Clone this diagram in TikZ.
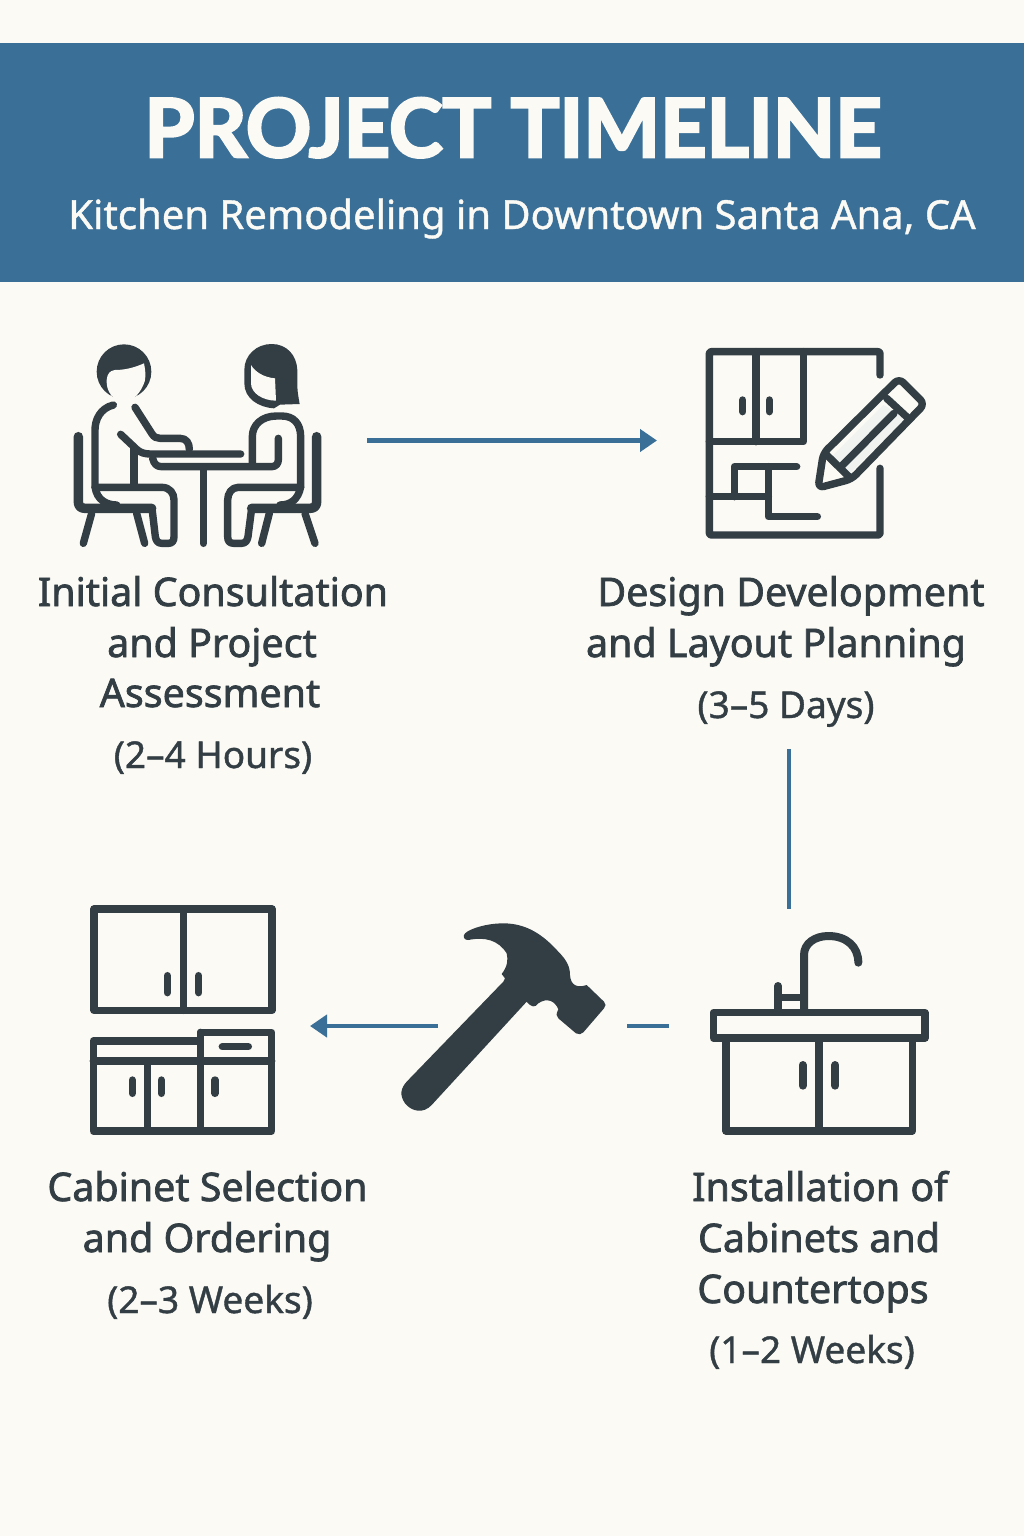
\documentclass[tikz,border=0pt]{standalone}
\usepackage{fontspec}
\setmainfont{Noto Sans}
\newfontfamily\lblfont{Noto Sans}
\newfontfamily\subfont{Noto Sans}
\newfontfamily\titlefont{Lato}
\newcommand{\heavyink}[2]{\special{pdf:code 2 Tr #1 w 0.196 0.239 0.267 RG}#2\special{pdf:code 0 Tr 1 w}}
\newcommand{\heavywhite}[2]{\special{pdf:code 2 Tr #1 w 0.984 0.98 0.961 RG}#2\special{pdf:code 0 Tr 1 w}}
\definecolor{bgc}{HTML}{FBFAF5}
\definecolor{bandc}{HTML}{3A6F98}
\definecolor{inkc}{HTML}{323D44}
\definecolor{penc}{HTML}{F1F3F0}
\tikzset{
  ink/.style={draw=inkc,line width=7.4pt,line join=round,line cap=round},
  chair/.style={draw=inkc,line width=9.5pt,line join=round,line cap=round},
  flowline/.style={draw=bandc,line width=4.2pt},
  flowarrow/.style={flowline,-{Triangle[length=17pt,width=22pt]}},
  lbl/.style={anchor=base,text=inkc,font=\lblfont\fontsize{39.4}{39.4}\selectfont,inner sep=0pt},
  dur/.style={anchor=base,text=inkc,font=\subfont\fontsize{37}{37}\selectfont,inner sep=0pt},
  zoomed/.style={x=0.33333pt,y=-0.33333pt}
}
\usetikzlibrary{arrows.meta}
\begin{document}
\begin{tikzpicture}[x=1pt,y=-1pt]
\useasboundingbox (0,0) rectangle (1024,1536);
\fill[bgc] (0,0) rectangle (1024,1536);
\fill[bandc] (0,43) rectangle (1024,282);
\node[anchor=base,text=bgc,font=\titlefont\fontsize{81}{81}\selectfont\bfseries,inner sep=0pt] (title) at (513,157) {\heavywhite{2.6}{PROJECT TIMELINE}};
\node[anchor=base,text=bgc,font=\subfont\fontsize{40}{40}\selectfont,inner sep=0pt] (subtitle) at (522,229) {\heavywhite{0.4}{Kitchen Remodeling in Downtown Santa Ana, CA}};

% --- consultation icon
\begin{scope}[shift={(50,330)},zoomed]
  \fill[inkc] (222,125) circle (82);
  \fill[bgc] (170,150) .. controls (172,130) and (180,122) .. (195,120) .. controls (230,120) and (260,110) .. (282,100) .. controls (288,130) and (288,150) .. (280,165) .. controls (265,200) and (240,215) .. (225,215) .. controls (190,215) and (168,185) .. (170,150) -- cycle;
  \draw[ink] (190,225) .. controls (150,235) and (135,270) .. (135,300) -- (135,470) .. controls (140,510) and (170,525) .. (200,525);
  \draw[ink] (135,472) -- (335,472) .. controls (360,472) and (372,490) .. (372,510) -- (372,620) .. controls (372,635) and (365,640) .. (355,640) -- (335,640) .. controls (322,640) and (318,630) .. (316,620) -- (306,535);
  \draw[ink] (255,232) -- (305,310) .. controls (312,322) and (320,325) .. (330,325) -- (390,325) .. controls (410,325) and (418,340) .. (418,358);
  \draw[ink] (212,313) -- (262,360) .. controls (272,368) and (285,372) .. (300,372) -- (572,372);
  \draw[ink] (252,355) -- (252,470);
  \draw[ink] (308,385) .. controls (312,402) and (320,410) .. (335,410) -- (665,410) .. controls (678,410) and (685,400) .. (685,390) -- (685,325);
  \draw[ink] (460,415) -- (460,640);
  \draw[chair] (85,320) -- (85,515) .. controls (85,528) and (92,535) .. (105,535) -- (305,535);
  \draw[ink] (125,550) -- (100,640);
  \draw[ink] (260,550) -- (284,640);
  % woman
  \fill[inkc] (583,120) .. controls (583,75) and (620,42) .. (665,42) .. controls (710,42) and (740,75) .. (742,120) -- (742,170) .. controls (743,190) and (746,205) .. (749,222) -- (690,224) -- (672,235) .. controls (625,232) and (583,205) .. (583,160) -- cycle;
  \fill[bgc] (603,105) .. controls (615,125) and (640,142) .. (675,145) -- (678,212) .. controls (640,212) and (603,190) .. (603,160) -- cycle;
  \draw[ink] (607,400) -- (607,320) .. controls (607,285) and (635,258) .. (680,258) -- (695,258) .. controls (730,258) and (752,280) .. (752,320) -- (752,470) .. controls (745,510) and (720,525) .. (690,525);
  \draw[ink] (752,472) -- (565,472) .. controls (545,472) and (533,490) .. (533,510) -- (533,620) .. controls (533,635) and (540,640) .. (552,640) -- (575,640) .. controls (588,640) and (592,630) .. (594,620) -- (605,535);
  \draw[chair] (800,320) -- (800,515) .. controls (800,528) and (793,535) .. (780,535) -- (605,535);
  \draw[ink] (658,550) -- (635,640);
  \draw[ink] (765,550) -- (795,640);
\end{scope}

% --- design icon
\begin{scope}[shift={(690,335)},zoomed]
  \draw[ink,rounded corners=2pt] (570,120) -- (570,50) -- (58,50) -- (58,600) -- (570,600) -- (570,400);
  \draw[ink] (198,50) -- (198,320);
  \draw[ink] (340,50) -- (340,320) -- (58,320);
  \draw[ink] (158,195) -- (158,230);
  \draw[ink] (238,195) -- (238,230);
  \draw[ink] (320,395) -- (133,395) -- (133,485);
  \draw[ink] (58,485) -- (235,485);
  \draw[ink] (235,395) -- (235,545) -- (382,545);
  \fill[penc] (425,365) -- (580,210) -- (650,250) -- (480,415) -- cycle;
  \draw[ink,rounded corners=6pt] (384,459) -- (400,355) -- (627,130) -- (704,207) -- (485,432) -- cycle;
  \draw[ink] (590,190) -- (655,250);
  \draw[ink] (410,360) -- (482,430);
  \draw[ink] (450,398) -- (612,235);
\end{scope}

% --- cabinets icon
\begin{scope}[shift={(80,895)},zoomed]
  \draw[ink] (42,42) rectangle (576,346);
  \draw[ink] (310,42) -- (310,346);
  \draw[ink] (262,242) -- (262,293);
  \draw[ink] (356,242) -- (356,293);
  \draw[ink] (40,438) -- (362,438) -- (362,412) -- (575,412) -- (575,708) -- (40,708) -- cycle;
  \draw[ink] (40,498) -- (575,498);
  \draw[ink] (202,498) -- (202,708);
  \draw[ink] (362,412) -- (362,708);
  \draw[ink] (157,555) -- (157,595);
  \draw[ink] (244,555) -- (244,595);
  \draw[ink] (405,555) -- (405,595);
  \draw[ink] (427,455) -- (505,455);
\end{scope}

% --- hammer icon
\begin{scope}[shift={(390,910)},zoomed]
  \fill[inkc] (222,75) .. controls (225,62) and (280,40) .. (340,40)
    .. controls (410,40) and (460,75) .. (505,125)
    .. controls (530,150) and (540,170) .. (540,195)
    .. controls (542,225) and (560,235) .. (590,225)
    -- (642,275) .. controls (648,282) and (648,288) .. (642,295)
    -- (580,367) .. controls (574,374) and (566,374) .. (558,370)
    -- (505,325) .. controls (498,318) and (498,312) .. (505,298)
    .. controls (495,272) and (470,262) .. (445,280)
    .. controls (435,293) and (425,293) .. (410,275)
    -- (125,585) .. controls (100,612) and (65,605) .. (45,580)
    .. controls (28,555) and (32,535) .. (50,515)
    -- (340,215) -- (345,205) -- (335,192)
    .. controls (352,170) and (355,150) .. (350,130)
    .. controls (325,90) and (285,80) .. (235,90)
    .. controls (225,90) and (220,85) .. (222,75) -- cycle;
\end{scope}

% --- sink icon
\begin{scope}[shift={(700,920)},zoomed]
  \draw[ink] (40,278) rectangle (675,354);
  \draw[ink] (78,354) -- (78,633) -- (637,633) -- (637,354);
  \draw[ink] (357,354) -- (357,633);
  \draw[ink,line width=8pt] (308,435) -- (308,497);
  \draw[ink,line width=8pt] (406,435) -- (406,497);
  \draw[ink,line width=8pt] (312,270) -- (312,105) .. controls (312,70) and (345,48) .. (385,48) .. controls (440,48) and (475,80) .. (475,128);
  \draw[ink,line width=8pt] (234,198) -- (234,270);
  \draw[ink] (234,233) -- (312,233);
\end{scope}

% --- connectors
\coordinate (c1s) at (367,440.5); \coordinate (c1e) at (657,440.5);
\coordinate (c2s) at (789,749); \coordinate (c2e) at (789,909);
\coordinate (c3s) at (669,1026); \coordinate (c3e) at (627,1026);
\coordinate (c4s) at (438,1026); \coordinate (c4e) at (310,1026);
\draw[flowarrow] (c1s) -- (c1e);
\draw[flowline] (c2s) -- (c2e);
\draw[flowline] (c3s) -- (c3e);
\draw[flowarrow] (c4s) -- (c4e);

% --- labels
\node[lbl] (a1) at (213,606) {\heavyink{0.7}{Initial Consultation}};
\node[lbl] (a2) at (212,657) {\heavyink{0.7}{and Project}};
\node[lbl] (a3) at (210,707) {\heavyink{0.7}{Assessment}};
\node[dur] (a4) at (213,768) {\heavyink{0.4}{(2–4 Hours)}};
\node[lbl] (b1) at (791,606) {\heavyink{0.7}{Design Development}};
\node[lbl] (b2) at (776,657) {\heavyink{0.7}{and Layout Planning}};
\node[dur] (b3) at (786,718) {\heavyink{0.4}{(3–5 Days)}};
\node[lbl] (d1) at (207.5,1201) {\heavyink{0.7}{Cabinet Selection}};
\node[lbl] (d2) at (207,1252) {\heavyink{0.7}{and Ordering}};
\node[dur] (d3) at (210,1313) {\heavyink{0.4}{(2–3 Weeks)}};
\node[lbl] (e1) at (820,1201) {\heavyink{0.7}{Installation of}};
\node[lbl] (e2) at (819,1252) {\heavyink{0.7}{Cabinets and}};
\node[lbl] (e3) at (813,1303) {\heavyink{0.7}{Countertops}};
\node[dur] (e4) at (812,1363) {\heavyink{0.4}{(1–2 Weeks)}};
\end{tikzpicture}
\end{document}
